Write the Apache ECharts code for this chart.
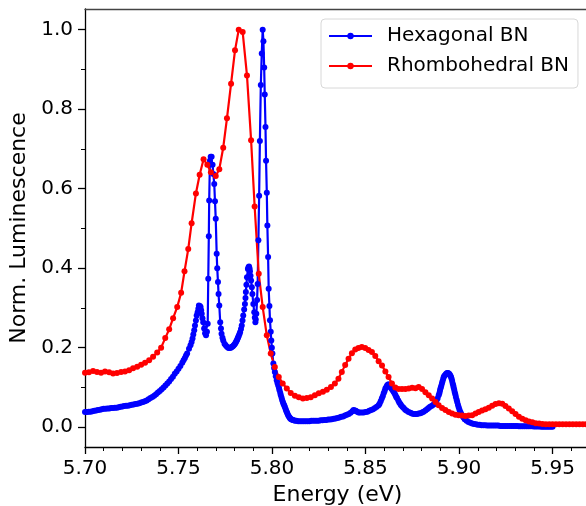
<!DOCTYPE html>
<html><head><meta charset="utf-8">
<script src="https://cdn.jsdelivr.net/npm/echarts@6/dist/echarts.min.js"></script>
<style>html,body{margin:0;padding:0;background:#fff}#c{width:586px;height:506px}</style>
</head><body><div id="c"></div>
<script>
const seriesNames = ['Hexagonal BN', 'Rhombohedral BN'];
// [energy (eV), normalized luminescence]
const hexPoints = [
[5.700,.038],[5.701,.038],[5.702,.039],[5.703,.039],[5.704,.040],[5.705,.041],[5.706,.042],[5.707,.043],[5.708,.044],[5.709,.045],
[5.710,.046],[5.711,.046],[5.712,.047],[5.713,.047],[5.714,.048],[5.715,.048],[5.716,.049],[5.717,.049],[5.718,.050],[5.719,.051],
[5.720,.052],[5.721,.053],[5.722,.054],[5.723,.054],[5.724,.055],[5.725,.056],[5.726,.057],[5.727,.058],[5.728,.059],[5.729,.060],
[5.730,.062],[5.731,.063],[5.732,.065],[5.733,.067],[5.734,.070],[5.735,.073],[5.736,.076],[5.737,.079],[5.738,.083],[5.739,.087],
[5.740,.091],[5.741,.095],[5.742,.100],[5.743,.105],[5.744,.110],[5.745,.115],[5.746,.121],[5.747,.127],[5.748,.134],[5.749,.140],
[5.750,.147],[5.751,.154],[5.752,.162],[5.7527,.168],[5.7534,.174],[5.7540,.180],[5.7546,.185],[5.7556,.197],[5.7564,.206],[5.7570,.214],
[5.7575,.223],[5.7579,.233],[5.7584,.244],[5.7588,.256],[5.7593,.268],[5.7597,.281],[5.7602,.289],[5.7606,.298],[5.7609,.306],[5.7614,.305],
[5.7618,.302],[5.7621,.294],[5.7624,.285],[5.7628,.274],[5.7632,.264],[5.7637,.248],[5.7642,.236],[5.7647,.231],[5.7652,.240],[5.7656,.260],
[5.7659,.373],[5.7662,.480],[5.7664,.570],[5.7668,.670],[5.7672,.680],[5.7677,.680],[5.7682,.660],[5.7686,.637],[5.7691,.612],[5.7695,.568],
[5.7699,.524],[5.7704,.436],[5.7707,.400],[5.7711,.365],[5.7714,.335],[5.7718,.306],[5.7723,.264],[5.7727,.248],[5.7730,.235],[5.7735,.225],
[5.7739,.218],[5.7746,.210],[5.7752,.206],[5.7759,.202],[5.7766,.200],[5.7770,.199],[5.7775,.200],[5.7780,.200],[5.7784,.2015],[5.7789,.203],
[5.7793,.205],[5.7798,.207],[5.7802,.210],[5.7806,.213],[5.7809,.216],[5.7813,.219],[5.7816,.223],[5.7819,.226],[5.7822,.230],[5.7826,.234],
[5.7829,.239],[5.7834,.247],[5.7838,.256],[5.7842,.268],[5.7846,.281],[5.7851,.296],[5.7855,.310],[5.7858,.325],[5.7860,.340],[5.7863,.358],
[5.7866,.377],[5.7871,.398],[5.7874,.402],[5.7877,.404],[5.7880,.399],[5.7882,.392],[5.7885,.381],[5.7888,.369],[5.7892,.352],[5.7895,.335],
[5.7900,.310],[5.7905,.289],[5.7908,.276],[5.7911,.264],[5.7913,.271],[5.7916,.285],[5.7920,.320],[5.7923,.360],[5.7927,.470],[5.7931,.582],
[5.7935,.720],[5.7940,.861],[5.7945,.940],[5.7950,1.000],[5.7954,.971],[5.7958,.905],[5.7961,.837],[5.7965,.755],[5.7968,.670],[5.7972,.590],
[5.7975,.507],[5.7979,.428],[5.7982,.348],[5.7986,.305],[5.7989,.269],[5.7993,.240],[5.7996,.218],[5.7999,.200],[5.8002,.185],[5.8007,.160],
[5.8011,.149],[5.8015,.139],[5.8020,.128],[5.8025,.118],[5.8029,.111],[5.8033,.105],[5.8037,.099],[5.8040,.093],[5.8044,.086],[5.8047,.080],
[5.8051,.074],[5.8054,.068],[5.8058,.063],[5.8061,.059],[5.8065,.055],[5.8068,.051],[5.8072,.046],[5.8075,.042],[5.8079,.038],[5.8082,.034],
[5.8086,.030],[5.8090,.027],[5.8094,.024],[5.8097,.022],[5.8102,.020],[5.8106,.019],[5.8111,.018],[5.8116,.017],[5.8123,.016],[5.8130,.016],
[5.814,.015],[5.815,.015],[5.816,.015],[5.817,.015],[5.818,.015],[5.819,.015],[5.820,.015],[5.821,.016],[5.822,.016],[5.823,.016],
[5.824,.016],[5.825,.016],[5.826,.017],[5.827,.017],[5.828,.018],[5.829,.018],[5.830,.019],[5.831,.019],[5.832,.020],[5.833,.021],
[5.834,.022],[5.835,.023],[5.836,.024],[5.837,.026],[5.838,.027],[5.839,.029],[5.840,.031],[5.841,.033],[5.842,.036],[5.843,.040],
[5.8436,.043],[5.8442,.042],[5.8448,.041],[5.8455,.039],[5.8463,.037],[5.847,.037],[5.848,.037],[5.849,.037],[5.850,.038],[5.851,.039],
[5.852,.041],[5.853,.043],[5.854,.045],[5.855,.048],[5.856,.051],[5.857,.055],[5.8575,.059],[5.8581,.065],[5.8587,.072],[5.8592,.078],
[5.8597,.085],[5.8602,.091],[5.8606,.097],[5.8611,.101],[5.8615,.105],[5.8620,.107],[5.8624,.107],[5.8628,.104],[5.8632,.101],[5.8637,.098],
[5.8641,.095],[5.8646,.092],[5.8650,.089],[5.8655,.085],[5.8660,.080],[5.8664,.076],[5.8668,.073],[5.8675,.067],[5.8680,.062],[5.8686,.058],
[5.8690,.055],[5.8697,.051],[5.8704,.048],[5.8712,.044],[5.8720,.041],[5.8730,.038],[5.8740,.036],[5.8748,.034],[5.8757,.033],[5.8766,.033],
[5.8775,.033],[5.8784,.034],[5.8793,.035],[5.8802,.037],[5.8810,.039],[5.8820,.042],[5.8829,.045],[5.8837,.048],[5.8845,.051],[5.8855,.054],
[5.8864,.057],[5.8871,.060],[5.8878,.065],[5.8885,.072],[5.8891,.080],[5.8895,.086],[5.8898,.092],[5.8901,.098],[5.8904,.103],[5.8908,.109],
[5.8911,.115],[5.8915,.121],[5.8918,.126],[5.8922,.129],[5.8927,.132],[5.8931,.134],[5.8936,.136],[5.8940,.136],[5.8945,.135],[5.8949,.133],
[5.8953,.130],[5.8957,.126],[5.8960,.122],[5.8963,.116],[5.8966,.110],[5.8969,.105],[5.8971,.100],[5.8974,.094],[5.8977,.088],[5.8980,.082],
[5.8983,.076],[5.8987,.069],[5.8990,.063],[5.8994,.056],[5.8998,.050],[5.9002,.044],[5.9007,.038],[5.9012,.033],[5.9018,.028],[5.9024,.024],
[5.903,.020],[5.904,.016],[5.905,.013],[5.906,.011],[5.907,.009],[5.908,.008],[5.909,.007],[5.910,.006],[5.911,.006],[5.912,.005],
[5.913,.005],[5.914,.005],[5.915,.004],[5.916,.004],[5.917,.004],[5.918,.004],[5.919,.004],[5.920,.004],[5.921,.004],[5.922,.003],
[5.923,.003],[5.924,.003],[5.925,.003],[5.926,.003],[5.927,.003],[5.928,.003],[5.929,.003],[5.930,.003],[5.931,.003],[5.932,.0025],
[5.933,.0025],[5.934,.0025],[5.935,.002],[5.936,.002],[5.937,.002],[5.938,.002],[5.939,.002],[5.940,.0015],[5.941,.0015],[5.942,.0015],
[5.943,.0015],[5.944,.001],[5.945,.001],[5.946,.001],[5.947,.001],[5.948,.001],[5.949,.001],[5.950,.001]
];
const rhoPoints = [
[5.7000,.137],[5.7021,.138],[5.7043,.141],[5.7064,.139],[5.7086,.137],[5.7107,.140],[5.7129,.138],[5.7150,.135],[5.7171,.136],[5.7193,.139],
[5.7214,.140],[5.7236,.143],[5.7257,.148],[5.7279,.152],[5.7300,.157],[5.7321,.162],[5.7343,.168],[5.7364,.177],[5.7386,.188],[5.7407,.200],
[5.7429,.224],[5.7450,.246],[5.7471,.274],[5.7493,.302],[5.7514,.338],[5.7532,.392],[5.7552,.448],[5.7570,.513],[5.7593,.588],[5.7613,.635],
[5.7634,.674],[5.7654,.660],[5.7673,.641],[5.7699,.632],[5.7718,.649],[5.7739,.703],[5.7759,.777],[5.7781,.864],[5.7802,.948],[5.7822,1.000],
[5.7843,.994],[5.7866,.885],[5.7888,.722],[5.7907,.555],[5.7929,.386],[5.7950,.302],[5.7972,.231],[5.7993,.185],[5.8015,.151],[5.8036,.126],
[5.8057,.110],[5.8079,.097],[5.8100,.086],[5.8122,.079],[5.8143,.075],[5.8165,.072],[5.8186,.073],[5.8207,.075],[5.8229,.080],[5.8250,.085],
[5.8272,.089],[5.8293,.094],[5.8315,.101],[5.8336,.110],[5.8355,.122],[5.8373,.139],[5.8391,.156],[5.8409,.172],[5.8427,.186],[5.8445,.195],
[5.8462,.199],[5.8480,.2015],[5.8498,.199],[5.8516,.194],[5.8534,.189],[5.8552,.179],[5.8570,.166],[5.8588,.155],[5.8606,.140],[5.8623,.126],
[5.8641,.110],[5.8659,.100],[5.8677,.096],[5.8695,.096],[5.8713,.096],[5.8731,.097],[5.8749,.099],[5.8767,.098],[5.8784,.101],[5.8802,.096],
[5.8820,.088],[5.8838,.080],[5.8856,.072],[5.8874,.063],[5.8891,.055],[5.8909,.048],[5.8927,.043],[5.8945,.038],[5.8963,.034],[5.8981,.031],
[5.8998,.030],[5.9016,.029],[5.9034,.028],[5.9052,.029],[5.9070,.030],[5.9088,.034],[5.9105,.038],[5.9123,.042],[5.9141,.045],[5.9159,.049],
[5.9177,.054],[5.9195,.058],[5.9213,.060],[5.9231,.059],[5.9248,.053],[5.9266,.047],[5.9284,.040],[5.9302,.033],[5.9320,.026],[5.9338,.021],
[5.9356,.017],[5.9374,.014],[5.9392,.012],[5.9410,.010],[5.9428,.009],[5.9446,.008],[5.9464,.0075],[5.9482,.007],[5.9500,.007],[5.9518,.007],
[5.9536,.007],[5.9554,.007],[5.9572,.007],[5.9590,.007],[5.9608,.007],[5.9626,.007],[5.9644,.007],[5.9662,.007],[5.9680,.007],[5.9698,.007]
];
const xTicks = [5.70,5.75,5.80,5.85,5.90,5.95];
const xMinorTicks = [5.71,5.72,5.73,5.74,5.76,5.77,5.78,5.79,5.81,5.82,5.83,5.84,5.86,5.87,5.88,5.89,5.91,5.92,5.93,5.94,5.96];
const yTicks = [0.0,0.2,0.4,0.6,0.8,1.0];
const yMinorTicks = [0.1,0.3,0.5,0.7,0.9];
const xRange = [5.70, 5.97];
const yRange = [-0.05, 1.052];

const FONT = 'DejaVu Sans';
const chart = echarts.init(document.getElementById('c'), null, {renderer:'canvas', width: 586, height: 506});
const axCol = '#000';
chart.setOption({
  animation: false,
  backgroundColor: '#fff',
  grid: {left: 85, top: 9, right: -4, bottom: 59, containLabel: false, outerBoundsMode: 'none'},
  legend: {
    orient: 'vertical', left: 321, top: 19,
    padding: [6, 9, 11, 7], itemGap: 8, itemWidth: 43, itemHeight: 8,
    backgroundColor: '#fff', borderColor: '#d8d8d8', borderWidth: 1, borderRadius: 4,
    textStyle: {fontFamily: FONT, fontSize: 20, color: '#000', padding: [0,0,0,10], lineHeight: 22},
    data: seriesNames
  },
  xAxis: [
    {type: 'value', min: xRange[0], max: xRange[1], position: 'bottom',
     name: 'Energy (eV)', nameLocation: 'middle', nameGap: 33,
     nameTextStyle: {fontFamily: FONT, fontSize: 22, color: '#000'},
     axisLine: {show: true, onZero: false, lineStyle: {color: axCol, width: 1.3}},
     axisTick: {show: true, inside: false, length: 7, customValues: xTicks, lineStyle: {color: axCol, width: 1.3}},
     axisLabel: {show: true, customValues: xTicks, margin: 12, fontFamily: FONT, fontSize: 20, color: '#000', formatter: v => v.toFixed(2)},
     splitLine: {show: false}},
    {type: 'value', min: xRange[0], max: xRange[1], position: 'bottom',
     axisLine: {show: false, onZero: false},
     axisTick: {show: true, length: 4, customValues: xMinorTicks, lineStyle: {color: axCol, width: 1}},
     axisLabel: {show: false}, splitLine: {show: false}},
    {type: 'value', min: xRange[0], max: xRange[1], position: 'top',
     axisLine: {show: true, onZero: false, lineStyle: {color: '#444', width: 1.3}},
     axisTick: {show: false}, axisLabel: {show: false}, splitLine: {show: false}}
  ],
  yAxis: [
    {type: 'value', min: yRange[0], max: yRange[1], position: 'left',
     name: 'Norm. Luminescence', nameLocation: 'middle', nameGap: 42, nameRotate: 90,
     nameTextStyle: {fontFamily: FONT, fontSize: 22, color: '#000'},
     axisLine: {show: true, onZero: false, lineStyle: {color: axCol, width: 1.3}},
     axisTick: {show: true, length: 7, customValues: yTicks, lineStyle: {color: axCol, width: 1.3}},
     axisLabel: {show: true, customValues: yTicks, margin: 12, fontFamily: FONT, fontSize: 20, color: '#000', formatter: v => v.toFixed(1)},
     splitLine: {show: false}},
    {type: 'value', min: yRange[0], max: yRange[1], position: 'left',
     axisLine: {show: false, onZero: false},
     axisTick: {show: true, length: 4, customValues: yMinorTicks, lineStyle: {color: axCol, width: 1}},
     axisLabel: {show: false}, splitLine: {show: false}}
  ],
  series: [
    {name: seriesNames[0], type: 'line', xAxisIndex: 0, yAxisIndex: 0, data: hexPoints,
     symbol: 'circle', symbolSize: 6, showSymbol: true, showAllSymbol: true,
     lineStyle: {color: '#0000ff', width: 2.2}, itemStyle: {color: '#0000ff', borderWidth: 0}, clip: true},
    {name: seriesNames[1], type: 'line', xAxisIndex: 0, yAxisIndex: 0, data: rhoPoints,
     symbol: 'circle', symbolSize: 6, showSymbol: true, showAllSymbol: true,
     lineStyle: {color: '#ff0000', width: 2.2}, itemStyle: {color: '#ff0000', borderWidth: 0}, clip: true}
  ]
});
</script></body></html>
